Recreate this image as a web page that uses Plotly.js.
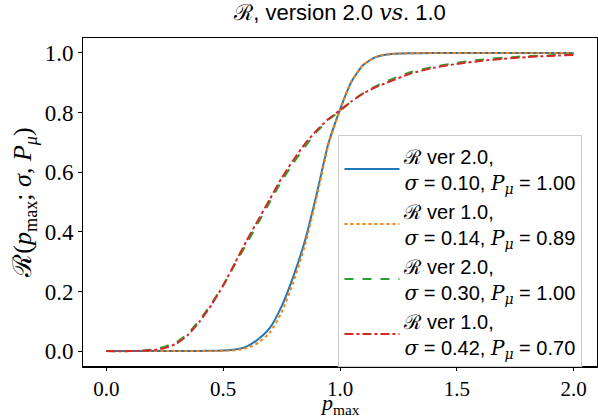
<!DOCTYPE html>
<html>
<head>
<meta charset="utf-8">
<script src="https://cdn.plot.ly/plotly-3.0.1.min.js"></script>
<style>html,body{margin:0;padding:0;background:#fff;}#chart{width:598px;height:419px;}</style>
</head>
<body>
<div id="chart"></div>
<script>
const pmax = [0, 0.1, 0.2, 0.25, 0.3, 0.35, 0.4, 0.45, 0.5, 0.55, 0.6, 0.65, 0.7, 0.75, 0.8, 0.85, 0.9, 0.95, 1.0, 1.05, 1.1, 1.15, 1.2, 1.3, 1.4, 1.5, 1.6, 1.7, 1.8, 1.9, 2.0];
const rV2s010 = [0, 0, 0, 0, 0, 0, 0.0005, 0.001, 0.002, 0.005, 0.015, 0.04, 0.078, 0.15, 0.25, 0.37, 0.526, 0.695, 0.81, 0.905, 0.96, 0.985, 0.995, 0.999, 1, 1, 1, 1, 1, 1, 1];
const rV1s014 = [0, 0, 0, 0, 0, 0, 0, 0, 0.001, 0.003, 0.01, 0.028, 0.062, 0.13, 0.23, 0.355, 0.515, 0.69, 0.81, 0.905, 0.96, 0.985, 0.995, 0.999, 1, 1, 1, 1, 1, 1, 1];
const rV2s030 = [0, 0, 0.005, 0.015, 0.03, 0.06, 0.105, 0.16, 0.22, 0.29, 0.36, 0.43, 0.5, 0.57, 0.63, 0.685, 0.735, 0.775, 0.805, 0.838, 0.865, 0.887, 0.905, 0.935, 0.953, 0.967, 0.977, 0.984, 0.989, 0.992, 0.995];
const rV1s042 = [0, 0, 0.003, 0.01, 0.025, 0.055, 0.1, 0.155, 0.22, 0.295, 0.37, 0.44, 0.51, 0.58, 0.64, 0.695, 0.74, 0.778, 0.808, 0.838, 0.864, 0.884, 0.9, 0.93, 0.95, 0.963, 0.973, 0.98, 0.986, 0.99, 0.993];
const SER = 'font-family:\'DejaVu Serif\'';
const names = [
  'ℛ ver 2.0,<br><span style="' + SER + '"><i>σ</i></span> = 0.10, <span style="' + SER + '"><i>P</i><sub><i>μ</i></sub></span> = 1.00',
  'ℛ ver 1.0,<br><span style="' + SER + '"><i>σ</i></span> = 0.14, <span style="' + SER + '"><i>P</i><sub><i>μ</i></sub></span> = 0.89',
  'ℛ ver 2.0,<br><span style="' + SER + '"><i>σ</i></span> = 0.30, <span style="' + SER + '"><i>P</i><sub><i>μ</i></sub></span> = 1.00',
  'ℛ ver 1.0,<br><span style="' + SER + '"><i>σ</i></span> = 0.42, <span style="' + SER + '"><i>P</i><sub><i>μ</i></sub></span> = 0.70'
];
const xTicks = [0, 0.5, 1.0, 1.5, 2.0];
const yTicks = [0, 0.2, 0.4, 0.6, 0.8, 1.0];

const series = [rV2s010, rV1s014, rV2s030, rV1s042];
const colors = ['#1f77b4', '#ff7f0e', '#2ca02c', '#d62728'];
const dashes = ['solid', 'dot', 'dash', 'dashdot'];
const traces = series.map((y, i) => ({
  x: pmax, y: y, type: 'scatter', mode: 'lines', name: names[i],
  line: {color: colors[i], width: 2, dash: dashes[i], shape: 'spline', smoothing: 0.6}
}));

const layout = {
  width: 598, height: 419,
  margin: {l: 83, r: 1, t: 38, b: 53},
  paper_bgcolor: '#fff', plot_bgcolor: '#fff',
  title: {
    text: 'ℛ, version 2.0 <span style="' + SER + '"><i>vs</i></span>. 1.0',
    font: {family: 'Liberation Sans', size: 22, color: '#000'},
    x: 0.5, xref: 'paper', xanchor: 'center', y: 0.99, yref: 'container', yanchor: 'top'
  },
  xaxis: {
    range: [-0.1, 2.1], tickvals: xTicks, tickformat: '.1f',
    showgrid: false, zeroline: false, showline: true, mirror: true, linecolor: '#000', linewidth: 1.5,
    ticks: 'outside', ticklen: 3, tickwidth: 1, tickcolor: '#000',
    tickfont: {family: 'Liberation Serif', size: 21, color: '#000'}
  },
  yaxis: {
    range: [-0.05, 1.05], tickvals: yTicks, tickformat: '.1f',
    showgrid: false, zeroline: false, showline: true, mirror: true, linecolor: '#000', linewidth: 1.5,
    ticks: 'outside', ticklen: 3.5, tickwidth: 1, tickcolor: '#000',
    tickfont: {family: 'Liberation Serif', size: 23, color: '#000'},
    title: {text: 'ℛ(<i>p</i><sub>max</sub>; <i>σ</i>, <i>P</i><sub><i>μ</i></sub>)', font: {family: 'Liberation Serif', size: 26, color: '#000'}, standoff: 5}
  },
  annotations: [{
    text: '<i>p</i><sub>max</sub>', xref: 'paper', yref: 'paper', x: 0.5, y: -0.1616,
    xanchor: 'center', yanchor: 'bottom', showarrow: false, borderpad: 0,
    font: {family: 'Liberation Serif', size: 22, color: '#000'}
  }],
  showlegend: true,
  legend: {
    x: 0.497, y: 0.703, xanchor: 'left', yanchor: 'top',
    bgcolor: 'rgba(255,255,255,0.85)', bordercolor: '#cccccc', borderwidth: 1,
    font: {family: 'Liberation Sans', size: 20, color: '#000'},
    itemwidth: 55, tracegroupgap: 0
  }
};

Plotly.newPlot('chart', traces, layout, {displayModeBar: false, staticPlot: true});
</script>
</body>
</html>
